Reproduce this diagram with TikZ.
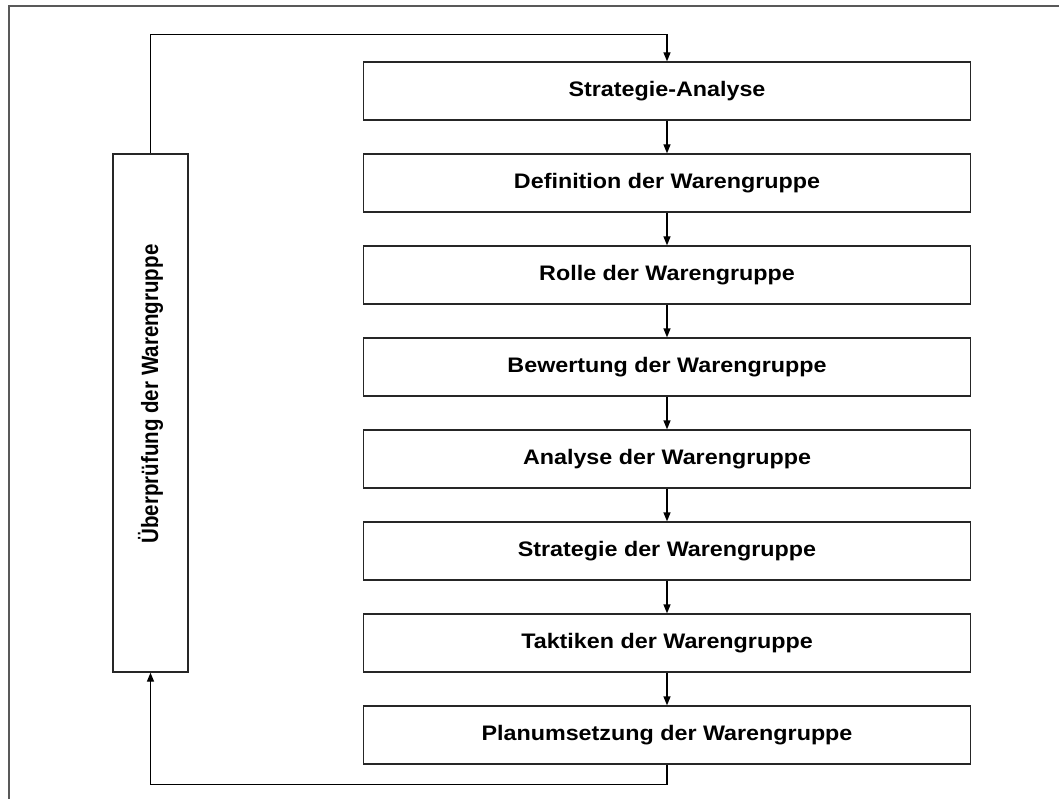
\documentclass[tikz,border=0pt]{standalone}
\usepackage{graphicx}
\usepackage{fontspec}
\setmainfont{Liberation Sans}
\usetikzlibrary{arrows.meta}

\newcommand{\breit}[1]{\scalebox{1.11}[1]{#1}}

\begin{document}
\begin{tikzpicture}[x=1pt,y=-1pt,
		kasten/.style={draw=black!85,line width=1.3pt,minimum width=607pt,minimum height=58pt,inner sep=0pt,font=\fontsize{21}{25}\selectfont\bfseries},
		seitkasten/.style={draw=black!85,line width=1.3pt,minimum width=75pt,minimum height=518pt,inner sep=0pt},
		pfeil/.style={draw=black,line width=1.3pt,-{Triangle[length=9pt,width=7pt]}}]
		\useasboundingbox (0,0) rectangle (1059,799);
		
		%Rahmen
		\draw [black!65,line width=2pt] (8.5,799)--(8.5,6.5)--(1059,6.5);
		
		%Schritte
		\node [kasten] (k1) at (667,91) {\breit{Strategie-Analyse}};
		\node [kasten] (k2) at (667,183) {\breit{Definition der Warengruppe}};
		\node [kasten] (k3) at (667,275) {\breit{Rolle der Warengruppe}};
		\node [kasten] (k4) at (667,367) {\breit{Bewertung der Warengruppe}};
		\node [kasten] (k5) at (667,459) {\breit{Analyse der Warengruppe}};
		\node [kasten] (k6) at (667,551) {\breit{Strategie der Warengruppe}};
		\node [kasten] (k7) at (667,643) {\breit{Taktiken der Warengruppe}};
		\node [kasten] (k8) at (667,735) {\breit{Planumsetzung der Warengruppe}};
		
		%Ueberpruefung
		\node [seitkasten] (pruefung) at (150.5,413) {};
		\node [rotate=90,inner sep=0pt,font=\fontsize{20.5}{24}\selectfont\bfseries] (pruefungtext) at ([yshift=19pt]pruefung.center) {\scalebox{1}[1.15]{Überprüfung der Warengruppe}};
		
		%Pfeile
		\draw [pfeil] (k1)--(k2);
		\draw [pfeil] (k2)--(k3);
		\draw [pfeil] (k3)--(k4);
		\draw [pfeil] (k4)--(k5);
		\draw [pfeil] (k5)--(k6);
		\draw [pfeil] (k6)--(k7);
		\draw [pfeil] (k7)--(k8);
		\draw [pfeil] (k8.south)--++(0,20)-|(pruefung.south);
		\draw [pfeil] (pruefung.north)--++(0,-119)-|(k1.north);
	\end{tikzpicture}
\end{document}
